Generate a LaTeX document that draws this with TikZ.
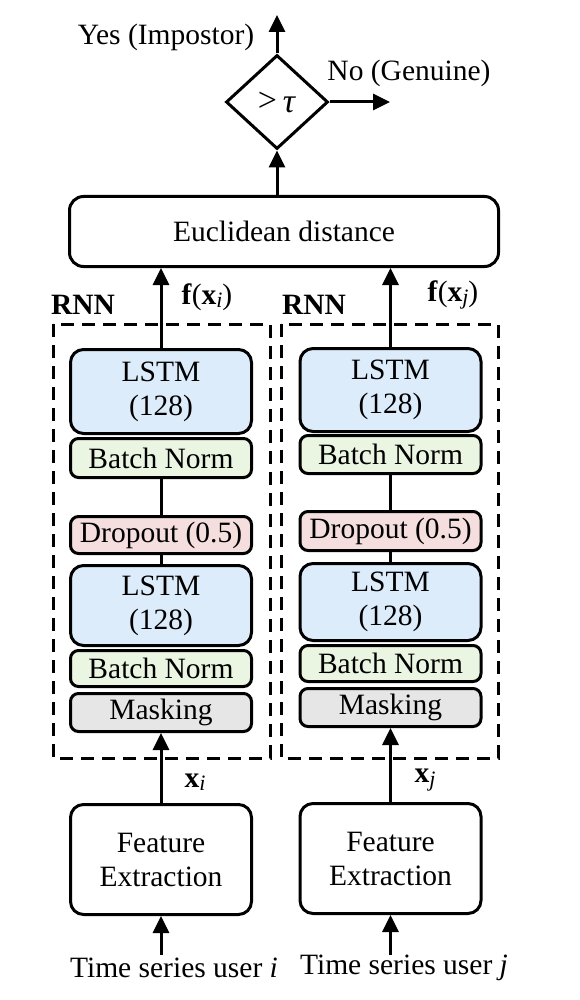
\documentclass[tikz,border=0pt]{standalone}
\usepackage{fontspec}
\setmainfont{Liberation Serif}
\usetikzlibrary{shapes.geometric,arrows.meta}
\definecolor{lstmc}{RGB}{221,236,251}
\definecolor{bnc}{RGB}{235,246,226}
\definecolor{dropc}{RGB}{244,222,222}
\definecolor{maskc}{RGB}{230,230,230}
\newcommand{\subsc}[1]{\raisebox{-0.25ex}{\fontsize{22}{24}\selectfont\textit{#1}}}
\begin{document}
\begin{tikzpicture}[x=1pt,y=-1pt,
  font=\fontsize{29.5}{34}\selectfont,
  lw/.style={line width=3pt},
  blk/.style={draw,lw,inner sep=0pt,minimum width=181pt,align=center},
  big/.style={blk,rounded corners=13pt},
  small/.style={blk,rounded corners=8pt},
  lstm/.style={big,fill=lstmc},
  bn/.style={small,fill=bnc},
  drop/.style={small,fill=dropc},
  mask/.style={small,fill=maskc},
  arr/.style={lw,-{Triangle[length=17pt,width=16pt]}},
  conn/.style={lw},
  rnnbox/.style={lw,dash pattern=on 13pt off 8pt},
  lbl/.style={inner sep=0pt}
]
\useasboundingbox (0,0) rectangle (580,1000);

% decision
\node[draw,lw,diamond,minimum width=102pt,minimum height=94pt,inner sep=0pt,font=\fontsize{34}{36}\selectfont] (dec) at (277,102) {\raisebox{1pt}{>}\hspace{6pt}\textit{τ}};
\coordinate (yes) at (277,15);
\coordinate (no) at (390,102);
\draw[arr] (dec.north) -- (yes);
\draw[arr] (dec.east) -- (no);
\node[lbl] (yeslbl) at (166,37) {Yes (Impostor)};
\node[lbl] (nolbl) at (409,73) {No (Genuine)};

% euclidean
\node[draw,lw,rounded corners=14pt,minimum width=429pt,minimum height=70pt,inner sep=0pt] (euc) at (284,231.5) {Euclidean distance};
\draw[arr] (euc.north -| dec.south) -- (dec.south);

% dashed boxes
\draw[rnnbox] (53,324) rectangle (270,758);
\draw[rnnbox] (281,324) rectangle (498,758);
\node[lbl,font=\fontsize{29.5}{34}\selectfont\bfseries] (rnnl) at (83,305) {RNN};
\node[lbl,font=\fontsize{29.5}{34}\selectfont\bfseries] (rnnr) at (314,305) {RNN};

% left column
\node[lstm,minimum height=84pt] (l1) at (161,391.5) {LSTM\\(128)};
\node[bn,minimum height=39pt] (b1) at (161,458) {Batch Norm};
\node[drop,minimum height=37pt] (d1) at (161,535) {Dropout (0.5)};
\node[lstm,minimum height=80pt] (l2) at (161,605.5) {LSTM\\(128)};
\node[bn,minimum height=36pt] (b2) at (161,668.5) {Batch Norm};
\node[mask,minimum height=38pt] (m1) at (161,712.5) {Masking};
\node[big,minimum height=110pt] (fe1) at (161,859.5) {Feature\\Extraction};

% right column
\node[lstm,minimum height=83pt] (r1) at (390.5,390) {LSTM\\(128)};
\node[bn,minimum height=38pt] (rb1) at (390.5,454.5) {Batch Norm};
\node[drop,minimum height=39pt] (rd1) at (390.5,531) {Dropout (0.5)};
\node[lstm,minimum height=77pt] (r2) at (390.5,602) {LSTM\\(128)};
\node[bn,minimum height=36pt] (rb2) at (390.5,663.5) {Batch Norm};
\node[mask,minimum height=38pt] (rm1) at (390.5,707.5) {Masking};
\node[big,minimum height=110pt] (fe2) at (390.5,858.5) {Feature\\Extraction};

% connectors left
\draw[conn] (b1.south) -- (d1.north);
\draw[conn] (d1.south) -- (l2.north);
\draw[arr] (l1.north) -- (l1.north |- euc.south);
\draw[arr] (fe1.north) -- (m1.south);
\coordinate (inl) at (161,955);
\draw[arr] (inl) -- (fe1.south);

% connectors right
\draw[conn] (rb1.south) -- (rd1.north);
\draw[conn] (rd1.south) -- (r2.north);
\draw[arr] (r1.north) -- (r1.north |- euc.south);
\draw[arr] (fe2.north) -- (rm1.south);
\coordinate (inr) at (390.5,955);
\draw[arr] (inr) -- (fe2.south);

% labels
\node[lbl] (fxi) at (207,297) {\textbf{f}(\textbf{x}\subsc{i})};
\node[lbl] (fxj) at (453,295) {\textbf{f}(\textbf{x}\subsc{j})};
\node[lbl] (xi) at (195,782) {\textbf{x}\subsc{i}};
\node[lbl] (xj) at (425,780) {\textbf{x}\subsc{j}};
\node[lbl] (tsi) at (174,968) {Time series user \textit{i}};
\node[lbl] (tsj) at (404,968) {Time series user \textit{j}};
\end{tikzpicture}
\end{document}
